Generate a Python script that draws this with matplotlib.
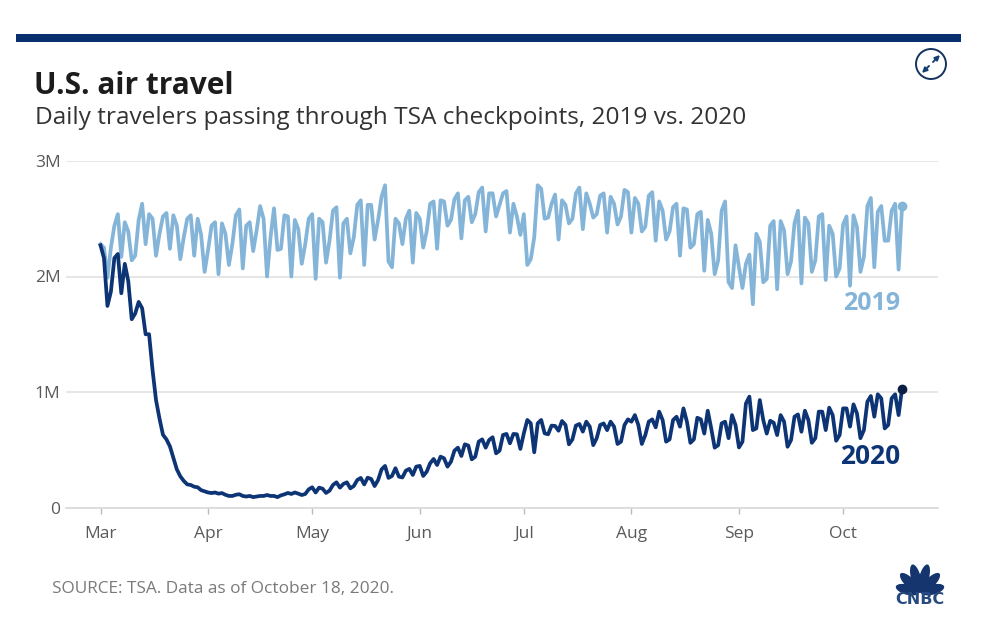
import math

import matplotlib
matplotlib.use("Agg")
import matplotlib.pyplot as plt
import pandas as pd
from matplotlib.patches import Circle, Ellipse, FancyArrowPatch, Rectangle

# millions of travellers, one value per day, Mar 1 - Oct 18
values_2019 = [
    2.28, 2.25, 1.99, 2.25, 2.44, 2.54, 2.17, 2.47, 2.39, 2.14, 2.18, 2.49, 2.63, 2.28,
    2.54, 2.50, 2.18, 2.37, 2.52, 2.55, 2.24, 2.53, 2.44, 2.15, 2.34, 2.50, 2.53, 2.18,
    2.50, 2.36, 2.04, 2.23, 2.44, 2.47, 2.02, 2.46, 2.37, 2.10, 2.28, 2.53, 2.58, 2.07,
    2.44, 2.47, 2.22, 2.40, 2.61, 2.50, 2.00, 2.34, 2.59, 2.23, 2.24, 2.53, 2.52, 2.00,
    2.49, 2.41, 2.11, 2.28, 2.50, 2.54, 1.98, 2.50, 2.47, 2.12, 2.31, 2.57, 2.60, 1.99,
    2.46, 2.50, 2.20, 2.34, 2.62, 2.66, 2.10, 2.62, 2.62, 2.32, 2.49, 2.69, 2.79, 2.13,
    2.08, 2.50, 2.46, 2.28, 2.50, 2.57, 2.12, 2.55, 2.50, 2.25, 2.39, 2.63, 2.65, 2.24,
    2.66, 2.65, 2.44, 2.49, 2.67, 2.72, 2.33, 2.66, 2.69, 2.47, 2.54, 2.73, 2.77, 2.39,
    2.72, 2.72, 2.52, 2.62, 2.72, 2.74, 2.38, 2.63, 2.52, 2.36, 2.54, 2.10, 2.15, 2.34,
    2.79, 2.76, 2.50, 2.51, 2.63, 2.71, 2.32, 2.66, 2.62, 2.46, 2.50, 2.72, 2.77, 2.41,
    2.72, 2.63, 2.51, 2.54, 2.70, 2.72, 2.38, 2.69, 2.63, 2.45, 2.52, 2.75, 2.73, 2.38,
    2.68, 2.63, 2.39, 2.43, 2.70, 2.73, 2.31, 2.65, 2.57, 2.32, 2.39, 2.60, 2.63, 2.18,
    2.59, 2.58, 2.25, 2.28, 2.54, 2.56, 2.05, 2.49, 2.37, 2.02, 2.14, 2.57, 2.65, 1.95,
    1.90, 2.27, 2.08, 1.90, 2.11, 2.19, 1.76, 2.37, 2.30, 1.95, 1.98, 2.44, 2.48, 1.89,
    2.48, 2.40, 2.02, 2.13, 2.46, 2.57, 1.94, 2.51, 2.46, 2.04, 2.14, 2.52, 2.54, 1.97,
    2.44, 2.37, 2.00, 2.07, 2.45, 2.52, 1.92, 2.53, 2.43, 2.04, 2.17, 2.61, 2.68, 2.08,
    2.56, 2.61, 2.31, 2.31, 2.57, 2.63, 2.06, 2.61,
]
values_2020 = [
    2.27, 2.16, 1.745, 1.87, 2.16, 2.195, 1.855, 2.11, 1.96, 1.63, 1.68, 1.78, 1.725, 1.50,
    1.50, 1.19, 0.93, 0.77, 0.63, 0.59, 0.53, 0.43, 0.33, 0.27, 0.23, 0.20, 0.195, 0.18,
    0.175, 0.15, 0.14, 0.13, 0.125, 0.13, 0.12, 0.125, 0.11, 0.10, 0.10, 0.11, 0.115, 0.10,
    0.095, 0.10, 0.09, 0.095, 0.10, 0.10, 0.108, 0.10, 0.10, 0.09, 0.105, 0.114, 0.126, 0.117,
    0.13, 0.12, 0.108, 0.117, 0.157, 0.175, 0.13, 0.172, 0.163, 0.126, 0.146, 0.195, 0.218, 0.172,
    0.204, 0.218, 0.166, 0.186, 0.238, 0.256, 0.20, 0.258, 0.247, 0.186, 0.238, 0.33, 0.36, 0.256,
    0.273, 0.34, 0.267, 0.26, 0.319, 0.334, 0.282, 0.354, 0.36, 0.273, 0.31, 0.383, 0.42, 0.368,
    0.44, 0.426, 0.354, 0.397, 0.492, 0.518, 0.446, 0.547, 0.536, 0.417, 0.44, 0.57, 0.59, 0.518,
    0.585, 0.608, 0.469, 0.492, 0.628, 0.637, 0.556, 0.637, 0.634, 0.507, 0.642, 0.758, 0.729, 0.478,
    0.729, 0.758, 0.642, 0.634, 0.709, 0.706, 0.665, 0.749, 0.715, 0.547, 0.59, 0.709, 0.723, 0.657,
    0.743, 0.70, 0.54, 0.60, 0.714, 0.728, 0.67, 0.743, 0.70, 0.55, 0.57, 0.714, 0.763, 0.743,
    0.80, 0.714, 0.55, 0.627, 0.743, 0.763, 0.694, 0.83, 0.757, 0.57, 0.59, 0.757, 0.786, 0.70,
    0.858, 0.743, 0.56, 0.59, 0.777, 0.763, 0.64, 0.838, 0.685, 0.518, 0.54, 0.728, 0.743, 0.60,
    0.80, 0.714, 0.52, 0.57, 0.90, 0.96, 0.67, 0.685, 0.93, 0.757, 0.64, 0.751, 0.734, 0.627,
    0.80, 0.743, 0.526, 0.584, 0.786, 0.806, 0.656, 0.838, 0.757, 0.56, 0.60, 0.83, 0.83, 0.67,
    0.864, 0.80, 0.578, 0.627, 0.858, 0.858, 0.70, 0.893, 0.815, 0.60, 0.67, 0.916, 0.965, 0.786,
    0.98, 0.945, 0.685, 0.714, 0.945, 0.98, 0.80, 1.03,
]
month_starts = ["2020-03-01", "2020-04-01", "2020-05-01", "2020-06-01",
                "2020-07-01", "2020-08-01", "2020-09-01", "2020-10-01"]
month_labels = ["Mar", "Apr", "May", "Jun", "Jul", "Aug", "Sep", "Oct"]
y_ticks = [0, 1, 2, 3]
y_labels = ["0", "1M", "2M", "3M"]

W, H = 998, 630
NAVY = "#0d3474"
LIGHT = "#84b5d9"
GREY = "#5a5a5a"

plt.rcParams["font.family"] = ["Open Sans", "DejaVu Sans"]

days = pd.date_range("2020-03-01", periods=len(values_2020))

fig = plt.figure(figsize=(W / 100, H / 100), dpi=100, facecolor="white")

# plot area, set in pixels of the picture
left, right, top, bottom = 66, 938, 161, 507.5
ax = fig.add_axes([left / W, 1 - bottom / H, (right - left) / W, (bottom - top) / H])
px_per_day = 3.47
x0 = pd.Timestamp("2020-03-01") - pd.Timedelta(days=(100.5 - left) / px_per_day)
x1 = pd.Timestamp("2020-03-01") + pd.Timedelta(days=(right - 100.5) / px_per_day)

ax.plot(days, values_2019, color=LIGHT, lw=2.7, solid_joinstyle="round", zorder=3)
ax.plot(days, values_2020, color=NAVY, lw=2.7, solid_joinstyle="round", zorder=4)
ax.plot(days[-1], values_2019[-1], "o", color=LIGHT, ms=6, zorder=5)
ax.plot(days[-1], values_2020[-1], "o", color="#0b1f45", ms=6, zorder=5)

ax.set_xlim(x0, x1)
ax.set_ylim(0, 3)
ax.set_xticks(pd.to_datetime(month_starts))
ax.set_xticklabels(month_labels, fontsize=12.5, color=GREY)
ax.set_yticks(y_ticks)
ax.set_yticklabels(y_labels, fontsize=12.5, color=GREY)
ax.tick_params(axis="x", length=4, width=1, color="#bbbbbb", pad=9)
ax.tick_params(axis="y", length=0, pad=4)
ax.grid(axis="y", color="#e2e2e2", lw=1.2)
ax.set_axisbelow(True)
for side in ["top", "left", "right"]:
    ax.spines[side].set_visible(False)
ax.spines["bottom"].set_color("#d9d9d9")
ax.spines["bottom"].set_linewidth(1.2)

# everything around the chart goes on an overlay in pixel coordinates
deco = fig.add_axes([0, 0, 1, 1], zorder=10)
deco.set_xlim(0, W)
deco.set_ylim(H, 0)
deco.axis("off")

deco.add_patch(Rectangle((16, 34), 945, 8, color="#08306f", lw=0))
deco.text(34, 86, "U.S. air travel", fontsize=21.5, fontweight="bold", color="#1c1c1c", va="center")
deco.text(35, 118.5, "Daily travelers passing through TSA checkpoints, 2019 vs. 2020",
          fontsize=17.6, color="#333333", va="center")
deco.text(52, 589, "SOURCE: TSA. Data as of October 18, 2020.", fontsize=12.4, color="#7a7a7a", va="center")
deco.text(900, 304, "2019", fontsize=18, fontweight="bold", color=LIGHT, va="center", ha="right")
deco.text(900, 457, "2020", fontsize=19, fontweight="bold", color=NAVY, va="center", ha="right")

# expand icon
deco.add_patch(Circle((931, 64), 15, fill=False, ec="#14335f", lw=1.4))
for start, end in [((933, 62), (940, 55)), ((929, 66), (922, 73))]:
    deco.add_patch(FancyArrowPatch(start, end, arrowstyle="-|>", mutation_scale=7, color="#14406f", lw=1.4,
                                   shrinkA=0, shrinkB=0))

# CNBC peacock
for angle, dist, length in [(-75, 13, 24), (-45, 14, 27), (-15, 15, 29), (15, 15, 29), (45, 14, 27), (75, 13, 24)]:
    cx = 920 + dist * math.sin(math.radians(angle))
    cy = 593 - dist * math.cos(math.radians(angle))
    deco.add_patch(Ellipse((cx, cy), 10, length, angle=angle, color="#15356f", lw=0))
deco.text(920, 600, "CNBC", fontsize=11.5, fontweight="bold", family="DejaVu Sans", color="#274a80",
          ha="center", va="center")

fig.savefig("out.png", dpi=100)
